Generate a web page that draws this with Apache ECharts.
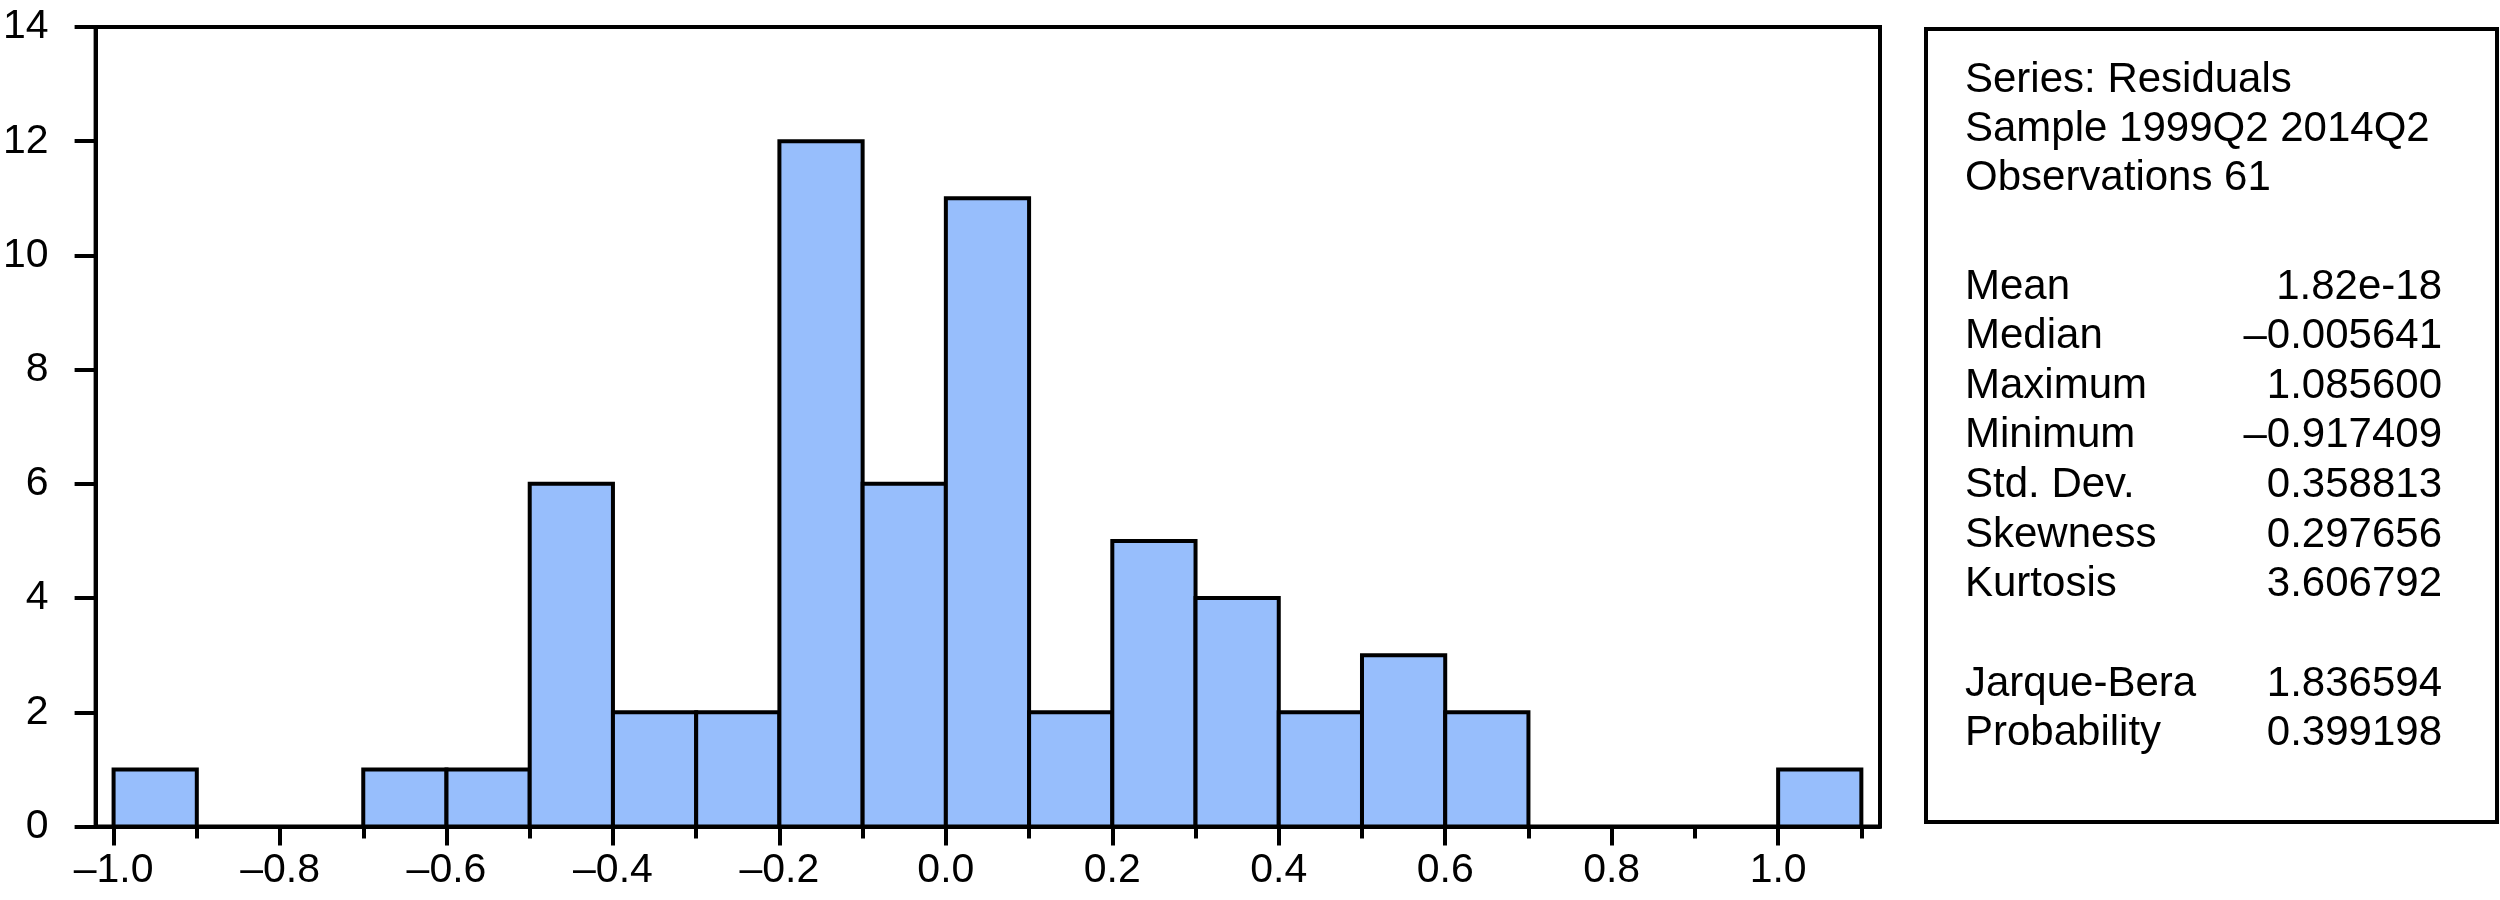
<!DOCTYPE html>
<html><head><meta charset="utf-8">
<script src="https://cdn.jsdelivr.net/npm/echarts@6/dist/echarts.min.js"></script>
<style>html,body{margin:0;padding:0;background:#fff}#c{width:2500px;height:900px}</style>
</head><body><div id="c"></div>
<script>
// ---- data ----
const binStarts = [-1.0,-0.9,-0.8,-0.7,-0.6,-0.5,-0.4,-0.3,-0.2,-0.1,0.0,0.1,0.2,0.3,0.4,0.5,0.6,0.7,0.8,0.9,1.0];
const binWidth = 0.1;
const counts = [1,0,0,1,1,6,2,2,12,6,11,2,5,4,2,3,2,0,0,0,1];
const xLabelTicks = [-1.0,-0.8,-0.6,-0.4,-0.2,0.0,0.2,0.4,0.6,0.8,1.0];
const xMinorTicks = [-0.9,-0.7,-0.5,-0.3,-0.1,0.1,0.3,0.5,0.7,0.9,1.1];
const xRange = [-1.0216, 1.1224];
const yRange = [0, 14];
const yInterval = 2;
const headerLines = ['Series: Residuals','Sample 1999Q2 2014Q2','Observations 61'];
const statNames = ['Mean','Median','Maximum','Minimum','Std. Dev.','Skewness','Kurtosis'];
const statValues = ['1.82e-18','\u20130.005641','1.085600','\u20130.917409','0.358813','0.297656','3.606792'];
const testNames = ['Jarque-Bera','Probability'];
const testValues = ['1.836594','0.399198'];

// ---- style / layout ----
const FONT = 'Liberation Sans';
const AFS = 41;   // axis labels
const TFS = 42;   // stats box text
const BAR = '#97BEFC';
const LW = 4;
const fmtX = v => (v < -1e-9 ? '\u2013' : '') + Math.abs(v).toFixed(1);

const chart = echarts.init(document.getElementById('c'), null, {renderer: 'canvas'});

const texts = [];
const LX = 1965, RX = 2442;
const mk = (t, x, y, align) => ({type:'text', x, y,
  style:{text:t, fontSize:TFS, fontFamily:FONT, fill:'#000', align, verticalAlign:'middle'}});
headerLines.forEach((t, i) => texts.push(mk(t, LX, 80 + i * 49, 'left')));
statNames.forEach((t, i) => {
  texts.push(mk(t, LX, 287 + i * 49.6, 'left'));
  texts.push(mk(statValues[i], RX, 287 + i * 49.6, 'right'));
});
testNames.forEach((t, i) => {
  texts.push(mk(t, LX, 684 + i * 49.6, 'left'));
  texts.push(mk(testValues[i], RX, 684 + i * 49.6, 'right'));
});

const option = {
  animation: false,
  backgroundColor: '#fff',
  grid: {left: 94, right: 620, top: 27, bottom: 73.5, show: true, borderColor: '#000', borderWidth: LW, backgroundColor: 'transparent'},
  xAxis: [
    {type:'value', min:xRange[0], max:xRange[1], position:'bottom',
     axisLine:{show:true, onZero:false, lineStyle:{color:'#000', width:LW}},
     axisTick:{show:true, inside:false, length:19, lineStyle:{color:'#000', width:LW}, customValues: xLabelTicks},
     axisLabel:{show:true, customValues: xLabelTicks, formatter: fmtX, color:'#000', fontSize:AFS, fontFamily:FONT, margin:24},
     splitLine:{show:false}},
    {type:'value', min:xRange[0], max:xRange[1], position:'bottom',
     axisLine:{show:false, onZero:false},
     axisTick:{show:true, inside:false, length:12, lineStyle:{color:'#000', width:LW}, customValues: xMinorTicks},
     axisLabel:{show:false},
     splitLine:{show:false}}
  ],
  yAxis: {type:'value', min:yRange[0], max:yRange[1], interval:yInterval, position:'left',
     axisLine:{show:true, onZero:false, lineStyle:{color:'#000', width:LW}},
     axisTick:{show:true, inside:false, length:21, lineStyle:{color:'#000', width:LW}},
     axisLabel:{color:'#000', fontSize:AFS, fontFamily:FONT, margin:47},
     splitLine:{show:false}},
  series: [{
    type:'custom',
    xAxisIndex:0, yAxisIndex:0,
    encode:{x:[0,1], y:2},
    data: binStarts.map((s, i) => [s, s + binWidth, counts[i]]),
    renderItem(params, api) {
      const c = api.value(2);
      if (!c) return null;
      const p0 = api.coord([api.value(0), c]);
      const p1 = api.coord([api.value(1), 0]);
      return {type:'rect', shape:{x:p0[0], y:p0[1], width:p1[0]-p0[0], height:p1[1]-p0[1]},
              style:{fill:BAR, stroke:'#000', lineWidth:LW}};
    },
    z: 1
  }],
  graphic: [
    {type:'rect', shape:{x:1926, y:29, width:571, height:793}, style:{fill:'none', stroke:'#000', lineWidth:LW}},
    ...texts
  ]
};
chart.setOption(option);
</script></body></html>
